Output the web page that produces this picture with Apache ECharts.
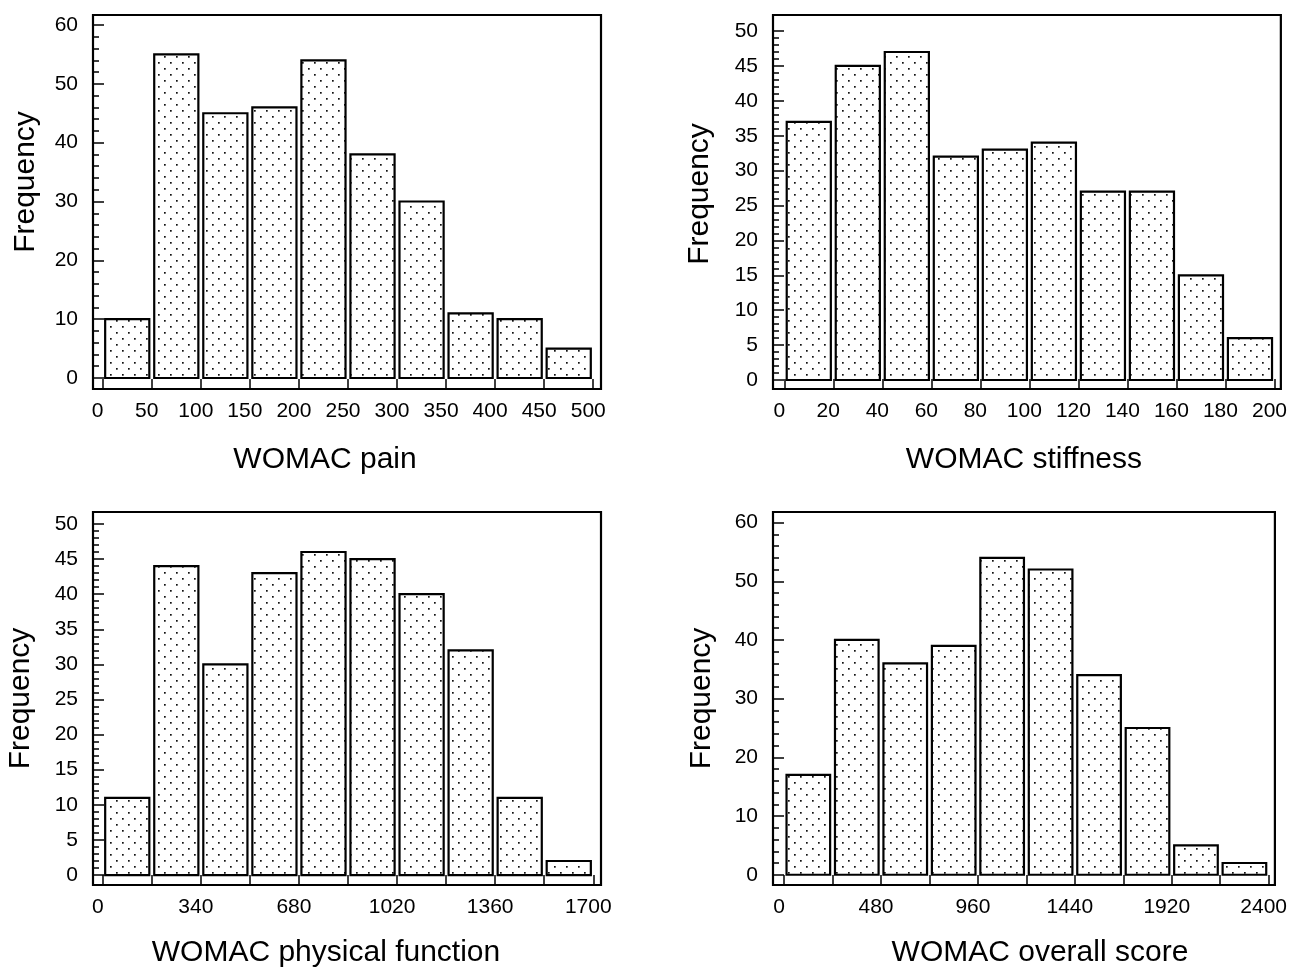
<!DOCTYPE html>
<html>
<head>
<meta charset="utf-8">
<script src="https://cdn.jsdelivr.net/npm/echarts@6/dist/echarts.min.js"></script>
<style>
html,body{margin:0;padding:0;background:#fff;}
#chart{width:1290px;height:969px;}
</style>
</head>
<body>
<div id="chart"></div>
<script>
// counts per bin
var painCounts    = [10, 55, 45, 46, 54, 38, 30, 11, 10, 5];
var stiffCounts   = [37, 45, 47, 32, 33, 34, 27, 27, 15, 6];
var physCounts    = [11, 44, 30, 43, 46, 45, 40, 32, 11, 2];
var overallCounts = [17, 40, 36, 39, 54, 52, 34, 25, 5, 2];

// bin edges (ticks under the bars)
var painEdges    = [0, 50, 100, 150, 200, 250, 300, 350, 400, 450, 500];
var stiffEdges   = [0, 20, 40, 60, 80, 100, 120, 140, 160, 180, 200];
var physEdges    = [0, 170, 340, 510, 680, 850, 1020, 1190, 1360, 1530, 1700];
var overallEdges = [0, 240, 480, 720, 960, 1200, 1440, 1680, 1920, 2160, 2400];

// tick labels
var painXLabels    = [0, 50, 100, 150, 200, 250, 300, 350, 400, 450, 500];
var stiffXLabels   = [0, 20, 40, 60, 80, 100, 120, 140, 160, 180, 200];
var physXLabels    = [0, 340, 680, 1020, 1360, 1700];
var overallXLabels = [0, 480, 960, 1440, 1920, 2400];
var painYLabels    = [0, 10, 20, 30, 40, 50, 60];
var stiffYLabels   = [0, 5, 10, 15, 20, 25, 30, 35, 40, 45, 50];
var physYLabels    = [0, 5, 10, 15, 20, 25, 30, 35, 40, 45, 50];
var overallYLabels = [0, 10, 20, 30, 40, 50, 60];

var FONT = '"Liberation Sans", Arial, sans-serif';

// dotted fill
var tile = document.createElement('canvas');
tile.width = 12; tile.height = 12;
var g = tile.getContext('2d');
g.fillStyle = '#fff';
g.fillRect(0, 0, 12, 12);
g.fillStyle = '#111';
g.fillRect(2, 2, 1.7, 1.7);
g.fillRect(8, 8, 1.7, 1.7);
var dots = {image: tile, repeat: 'repeat'};

function steps(from, to, step) {
  var out = [];
  for (var v = from; v <= to + 1e-9; v += step) out.push(v);
  return out;
}

function plain(v) {
  return String(v);
}

function renderBar(params, api) {
  var a = api.coord([api.value(0), api.value(2)]);
  var b = api.coord([api.value(1), 0]);
  return {
    type: 'rect',
    shape: {x: a[0], y: a[1], width: b[0] - a[0], height: b[1] - a[1]},
    style: {fill: dots, stroke: '#000', lineWidth: 2.2}
  };
}

var panels = [
  {left: 93, top: 15, height: 374, counts: painCounts, edges: painEdges, xLabels: painXLabels,
   yLabels: painYLabels, minor: 2, xMin: -9.9, xMax: 507.9, yMin: -1.87, yMax: 61.7,
   xName: 'WOMAC pain', xPad: [0, 44, 0, 0], xGap: 56, yGap: 52, yPad: [0, 0, 0, 40]},
  {left: 773, top: 15, height: 374, counts: stiffCounts, edges: stiffEdges, xLabels: stiffXLabels,
   yLabels: stiffYLabels, minor: 1, xMin: -4.6, xMax: 202.6, yMin: -1.29, yMax: 52.3,
   xName: 'WOMAC stiffness', xPad: [0, 6, 0, 0], xGap: 56, yGap: 58, yPad: [0, 0, 0, 16]},
  {left: 93, top: 512, height: 375, counts: physCounts, edges: physEdges, xLabels: physXLabels,
   yLabels: physYLabels, minor: 1, xMin: -33.7, xMax: 1726.7, yMin: -1.42, yMax: 51.7,
   xName: 'WOMAC physical function', xPad: [0, 42, 0, 0], xGap: 53, yGap: 57, yPad: [0, 0, 0, 0]},
  {left: 773, top: 512, height: 375, counts: overallCounts, edges: overallEdges, xLabels: overallXLabels,
   yLabels: overallYLabels, minor: 2, xMin: -55, xMax: 2431, yMin: -1.75, yMax: 61.8,
   xName: 'WOMAC overall score', xPad: [0, 0, 0, 32], xGap: 53, yGap: 56, yPad: [0, 0, 0, 0]}
];

var option = {
  backgroundColor: '#fff',
  animation: false,
  grid: [], xAxis: [], yAxis: [], series: []
};

function tickAxis(gridIndex, pos, min, max, values, len) {
  return {
    gridIndex: gridIndex, type: 'value', position: pos, offset: 0, min: min, max: max,
    axisLine: {show: false, onZero: false},
    splitLine: {show: false},
    axisLabel: {show: false},
    axisTick: {show: true, inside: true, length: len, customValues: values,
               lineStyle: {color: '#000', width: 1.5}}
  };
}

panels.forEach(function (p, i) {
  option.grid.push({
    left: p.left, top: p.top, width: 508, height: p.height,
    show: true, borderColor: '#000', borderWidth: 2.2, backgroundColor: '#fff'
  });
  // x: labels + name, then the ticks
  option.xAxis.push({
    gridIndex: i, type: 'value', min: p.xMin, max: p.xMax, position: 'bottom', offset: 0,
    axisLine: {show: false, onZero: false},
    splitLine: {show: false},
    axisTick: {show: false},
    axisLabel: {customValues: p.xLabels, formatter: plain, color: '#000', fontSize: 21,
                fontFamily: FONT, margin: 12, padding: [0, 10, 0, 0]},
    name: p.xName, nameLocation: 'middle', nameGap: p.xGap,
    nameTextStyle: {color: '#000', fontSize: 30, fontFamily: FONT, padding: p.xPad}
  });
  option.xAxis.push(tickAxis(i, 'bottom', p.xMin, p.xMax, p.edges, 10));

  // y: labels + name, major ticks, minor ticks
  option.yAxis.push({
    gridIndex: i, type: 'value', min: p.yMin, max: p.yMax, position: 'left', offset: 0,
    axisLine: {show: false, onZero: false},
    splitLine: {show: false},
    axisTick: {show: false},
    axisLabel: {customValues: p.yLabels, formatter: plain, color: '#000', fontSize: 21,
                fontFamily: FONT, margin: 15},
    name: 'Frequency', nameLocation: 'middle', nameGap: p.yGap,
    nameTextStyle: {color: '#000', fontSize: 30, fontFamily: FONT, padding: p.yPad}
  });
  var top = p.yLabels[p.yLabels.length - 1];
  option.yAxis.push(tickAxis(i, 'left', p.yMin, p.yMax, p.yLabels, 11));
  option.yAxis.push(tickAxis(i, 'left', p.yMin, p.yMax, steps(0, top, p.minor), 6));

  var w = p.edges[1] - p.edges[0];
  option.series.push({
    type: 'custom', xAxisIndex: i * 2, yAxisIndex: i * 3,
    renderItem: renderBar,
    encode: {x: [0, 1], y: 2},
    data: p.counts.map(function (c, k) {
      return [p.edges[k] + 0.05 * w, p.edges[k] + 0.95 * w, c];
    })
  });
});

var myChart = echarts.init(document.getElementById('chart'));
myChart.setOption(option);
window.addEventListener('resize', function () {
  myChart.resize();
});
</script>
</body>
</html>
